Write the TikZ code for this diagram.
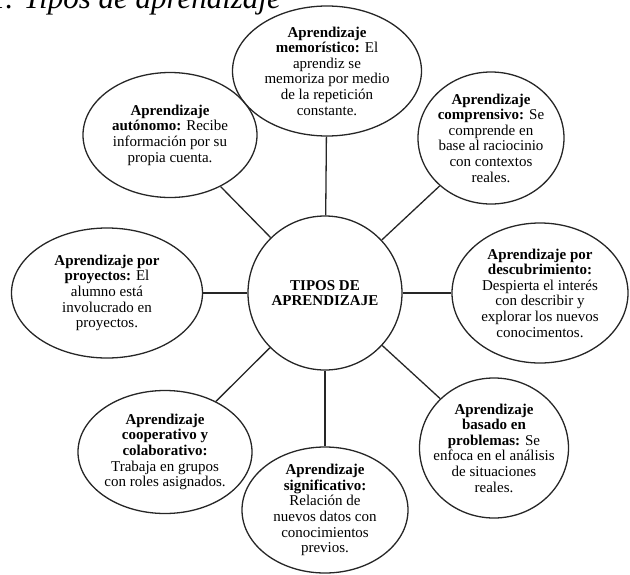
\documentclass[tikz,border=0pt]{standalone}
\usepackage{fontspec}
\setmainfont{Liberation Serif}
\usetikzlibrary{shapes.geometric}
\begin{document}
\begin{tikzpicture}[x=1pt,y=-1pt,
  bubble/.style={ellipse, draw=black!85, line width=1.3pt, inner sep=-20pt,
    align=center, font=\fontsize{15}{15.6}\selectfont},
  link/.style={draw=black!85, line width=1.3pt}]
\useasboundingbox (0,0) rectangle (630,574);
\clip (0,0) rectangle (630,574);

% caption, partly above the page edge
\node[anchor=base east, inner sep=0pt, font=\fontsize{31}{31}\selectfont\itshape]
  (title) at (281,8) {1. Tipos de aprendizaje};

% hub
\node[bubble, circle, minimum size=154pt] (cen) at (325,293)
  {\textbf{TIPOS DE}\\\textbf{APRENDIZAJE}};

% surrounding bubbles
\node[bubble, minimum width=189pt, minimum height=130pt] (mem) at (327,71)
  {\textbf{Aprendizaje}\\\textbf{memorístico:} El\\aprendiz se\\memoriza por medio\\de la repetición\\constante.};
\node[bubble, minimum width=174pt, minimum height=125pt] (aut) at (170,135)
  {\textbf{Aprendizaje}\\\textbf{autónomo:} Recibe\\información por su\\propia cuenta.};
\node[bubble, minimum width=146pt, minimum height=132pt] (com) at (491,138)
  {\textbf{Aprendizaje}\\\textbf{comprensivo:} Se\\comprende en\\base al raciocinio\\con contextos\\reales.};
\node[bubble, minimum width=191pt, minimum height=130pt] (pro) at (107,293)
  {\textbf{Aprendizaje por}\\\textbf{proyectos:} El\\alumno está\\involucrado en\\proyectos.};
\node[bubble, minimum width=176pt, minimum height=140pt] (des) at (540,293)
  {\textbf{Aprendizaje por}\\\textbf{descubrimiento:}\\Despierta el interés\\con describir y\\explorar los nuevos\\conocimentos.};
\node[bubble, minimum width=174pt, minimum height=123pt] (coo) at (165,452)
  {\textbf{Aprendizaje}\\\textbf{cooperativo y}\\\textbf{colaborativo:}\\Trabaja en grupos\\con roles asignados.};
\node[bubble, minimum width=166pt, minimum height=126pt] (sig) at (325,510)
  {\textbf{Aprendizaje}\\\textbf{significativo:}\\Relación de\\nuevos datos con\\conocimientos\\previos.};
\node[bubble, minimum width=149pt, minimum height=140pt] (prb) at (494,448)
  {\textbf{Aprendizaje}\\\textbf{basado en}\\\textbf{problemas:} Se\\enfoca en el análisis\\de situaciones\\reales.};

% spokes
\foreach \n in {mem,aut,com,pro,des,coo,sig,prb}
  \draw[link] (cen) -- (\n);
\end{tikzpicture}
\end{document}
